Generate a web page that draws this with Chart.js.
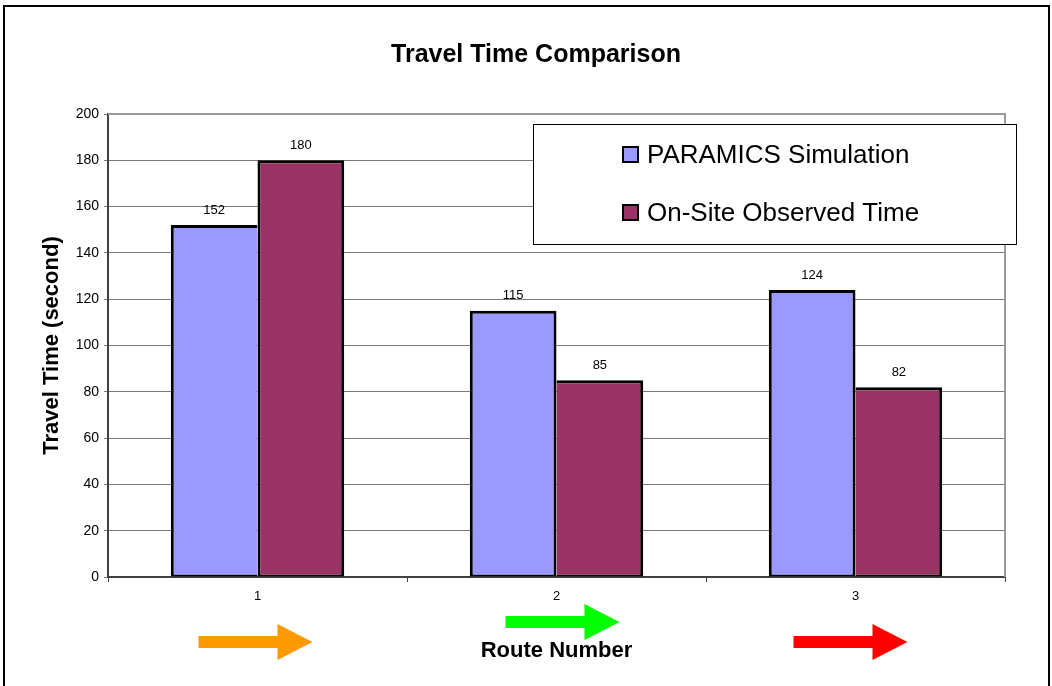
<!DOCTYPE html>
<html>
<head>
<meta charset="utf-8">
<script src="https://cdn.jsdelivr.net/npm/chart.js@4/dist/chart.umd.min.js"></script>
<style>
  html, body { margin: 0; padding: 0; background: #fff; }
  canvas { display: block; }
</style>
</head>
<body>
<canvas id="myChart" width="1052" height="686"></canvas>
<script>
const routes = ["1", "2", "3"];
const simulation = [152, 115, 124];
const observed = [180, 85, 82];
const arrowColors = ["#FF9900", "#00FF00", "#FF0000"];

const FONT = "'Liberation Sans', Arial, sans-serif";

// shared edge between the two bars of a group is drawn once, by the taller bar
const barBorder = (ctx) => {
  const i = ctx.dataIndex;
  const simTaller = simulation[i] >= observed[i];
  if (ctx.datasetIndex === 0) {
    return { left: 3, top: 3, bottom: 2, right: simTaller ? 3 : 0 };
  }
  return { right: 3, top: 3, bottom: 2, left: simTaller ? 0 : 3 };
};

// frame, titles, legend, value labels and route arrows
const decorations = {
  id: "decorations",
  beforeDraw(chart) {
    const ctx = chart.ctx;
    ctx.save();
    ctx.fillStyle = "#fff";
    ctx.fillRect(0, 0, chart.width, chart.height);
    ctx.strokeStyle = "#000";
    ctx.lineWidth = 2;
    ctx.strokeRect(4, 6, 1045, 700);
    ctx.restore();
  },
  afterDraw(chart) {
    const ctx = chart.ctx;
    const area = chart.chartArea;
    const x = chart.scales.x;
    ctx.save();

    // top / right border of plot area
    ctx.strokeStyle = "#9a9a9a";
    ctx.lineWidth = 2;
    ctx.beginPath();
    ctx.moveTo(area.left, area.top);
    ctx.lineTo(area.right, area.top);
    ctx.lineTo(area.right, area.bottom);
    ctx.stroke();

    // value labels
    ctx.fillStyle = "#000";
    ctx.font = "13px " + FONT;
    ctx.textAlign = "center";
    ctx.textBaseline = "middle";
    chart.data.datasets.forEach((ds, i) => {
      chart.getDatasetMeta(i).data.forEach((bar, j) => {
        ctx.fillText(String(ds.data[j]), bar.x, bar.y - 15);
      });
    });

    // titles
    ctx.font = "bold 25px " + FONT;
    ctx.fillText("Travel Time Comparison", 536, 55);
    ctx.font = "bold 22px " + FONT;
    ctx.fillText("Route Number", (area.left + area.right) / 2, 651);
    ctx.save();
    ctx.translate(52, (area.top + area.bottom) / 2);
    ctx.rotate(-Math.PI / 2);
    ctx.fillText("Travel Time (second)", 0, 0);
    ctx.restore();

    // arrows under each route
    const shift = [-1, 7, -4];
    const ys = [642, 622, 642];
    routes.forEach((r, i) => {
      const cx = x.getPixelForValue(i) + shift[i];
      const cy = ys[i];
      ctx.fillStyle = arrowColors[i];
      ctx.beginPath();
      ctx.moveTo(cx - 58, cy - 6);
      ctx.lineTo(cx + 21, cy - 6);
      ctx.lineTo(cx + 21, cy - 18);
      ctx.lineTo(cx + 56, cy);
      ctx.lineTo(cx + 21, cy + 18);
      ctx.lineTo(cx + 21, cy + 6);
      ctx.lineTo(cx - 58, cy + 6);
      ctx.closePath();
      ctx.fill();
    });

    // legend box
    ctx.fillStyle = "#fff";
    ctx.fillRect(533, 124, 483, 120);
    ctx.strokeStyle = "#000";
    ctx.lineWidth = 1;
    ctx.strokeRect(533.5, 124.5, 483, 120);
    ctx.textAlign = "left";
    ctx.font = "26px " + FONT;
    chart.data.datasets.forEach((ds, i) => {
      const cy = 155 + i * 58;
      ctx.fillStyle = ds.backgroundColor;
      ctx.fillRect(623, cy - 8, 15, 15);
      ctx.lineWidth = 2;
      ctx.strokeStyle = "#000";
      ctx.strokeRect(623, cy - 8, 15, 15);
      ctx.fillStyle = "#000";
      ctx.fillText(ds.label, 647, cy + 1);
    });

    ctx.restore();
  },
};

new Chart(document.getElementById("myChart").getContext("2d"), {
  type: "bar",
  data: {
    labels: routes,
    datasets: [
      {
        label: "PARAMICS Simulation",
        data: simulation,
        backgroundColor: "#9999FF",
        borderColor: "#000",
        borderWidth: barBorder,
        borderSkipped: false,
      },
      {
        label: "On-Site Observed Time",
        data: observed,
        backgroundColor: "#993366",
        borderColor: "#000",
        borderWidth: barBorder,
        borderSkipped: false,
      },
    ],
  },
  options: {
    responsive: false,
    animation: false,
    layout: { padding: { left: 0, top: 114, right: 47, bottom: 0 } },
    datasets: { bar: { categoryPercentage: 0.58, barPercentage: 1 } },
    plugins: {
      legend: { display: false },
      title: { display: false },
      tooltip: { enabled: false },
    },
    scales: {
      x: {
        afterFit: (s) => { s.height = 109; },
        grid: { drawOnChartArea: false, tickLength: 5, color: "#404040", offset: true },
        border: { color: "#404040", width: 2 },
        ticks: { color: "#000", padding: 7, font: { family: FONT, size: 13 } },
      },
      y: {
        min: 0,
        max: 200,
        afterFit: (s) => { s.width = 108; },
        grid: { color: "#7a7a7a", lineWidth: 1, tickLength: 4 },
        border: { color: "#404040", width: 2 },
        ticks: { stepSize: 20, color: "#000", padding: 5, font: { family: FONT, size: 14 } },
      },
    },
  },
  plugins: [decorations],
});
</script>
</body>
</html>
